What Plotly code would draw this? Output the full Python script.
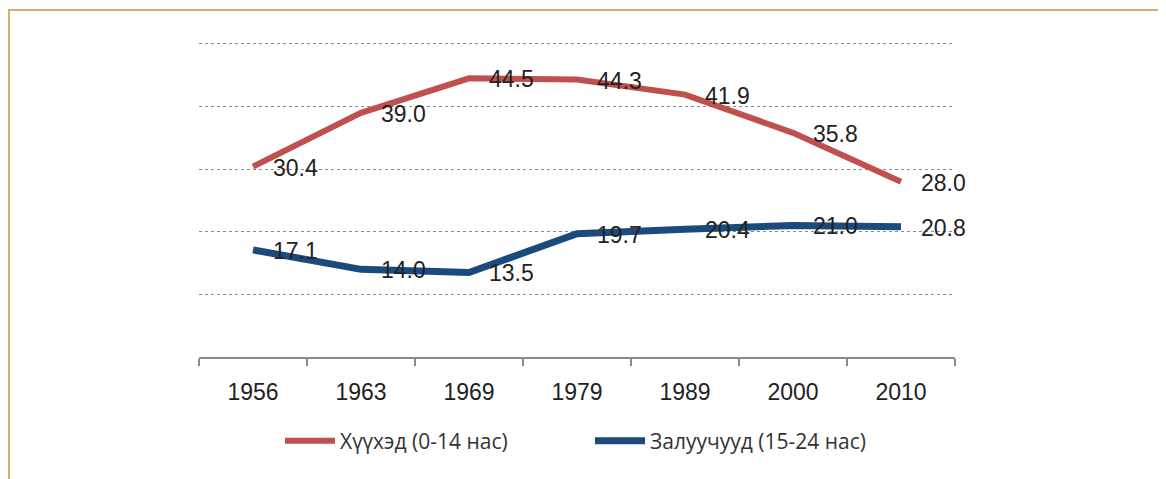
import plotly.graph_objects as go

years = ["1956", "1963", "1969", "1979", "1989", "2000", "2010"]
children = [30.4, 39.0, 44.5, 44.3, 41.9, 35.8, 28.0]
youth = [17.1, 14.0, 13.5, 19.7, 20.4, 21.0, 20.8]
series_names = ["Хүүхэд (0-14 нас)", "Залуучууд (15-24 нас)"]

RED = "#C0504D"
BLUE = "#1A4B7C"

# the page body adds an 8px offset; figure pixel = page pixel - 8
OFF = 8
W, H = 1166 - OFF, 479 - OFF
L, R, T, B = 199 - OFF, 211, 42 - OFF, 122
pw, ph = W - L - R, H - T - B

fig = go.Figure()
fig.add_trace(go.Scatter(x=years, y=children, mode="lines", name=series_names[0],
                         line=dict(color=RED, width=6)))
fig.add_trace(go.Scatter(x=years, y=youth, mode="lines", name=series_names[1],
                         line=dict(color=BLUE, width=7)))

annotations = []
for vals in (children, youth):
    for i, v in enumerate(vals):
        annotations.append(dict(x=i, y=v, xref="x", yref="y", text=f"{v:.1f}", showarrow=False,
                                xanchor="left", yanchor="middle", xshift=18, yshift=-1,
                                font=dict(family="Liberation Sans, Arial", size=23, color="#222222")))

def px_x(p):
    return (p - OFF - L) / pw

def px_y(p):
    return (H - B - (p - OFF)) / ph

shapes = [
    dict(type="line", xref="paper", yref="paper", x0=px_x(9), x1=px_x(9), y0=px_y(10), y1=px_y(490),
         line=dict(color="#D3AE6E", width=2)),
    dict(type="line", xref="paper", yref="paper", x0=px_x(8), x1=px_x(1180), y0=px_y(10), y1=px_y(10),
         line=dict(color="#D3AE6E", width=2)),
]

fig.update_layout(
    width=W, height=H,
    margin=dict(l=L, r=R, t=T, b=B),
    paper_bgcolor="white", plot_bgcolor="white",
    font=dict(family="Liberation Sans, Arial", size=23, color="#222222"),
    showlegend=True,
    legend=dict(orientation="h", x=px_x(280), xanchor="left", y=px_y(441), yanchor="middle",
                font=dict(family="Open Sans", size=21, color="#333333"),
                itemwidth=50, entrywidth=245, entrywidthmode="pixels", traceorder="normal"),
    annotations=annotations,
    shapes=shapes,
    xaxis=dict(type="category", showline=True, linecolor="#8A8A8A", linewidth=2,
               ticks="outside", tickson="boundaries", ticklen=7, tickwidth=2, tickcolor="#8A8A8A",
               ticklabelstandoff=13,
               showgrid=False, zeroline=False, range=[-0.5, 6.5],
               tickfont=dict(family="Liberation Sans, Arial", size=23, color="#222222")),
    yaxis=dict(range=[0, 50.3], tickvals=[10, 20, 30, 40, 50], showticklabels=False,
               showline=False, zeroline=False,
               showgrid=True, gridcolor="#8C8C8C", griddash="dot", gridwidth=1),
)

fig.write_html("out.html")
